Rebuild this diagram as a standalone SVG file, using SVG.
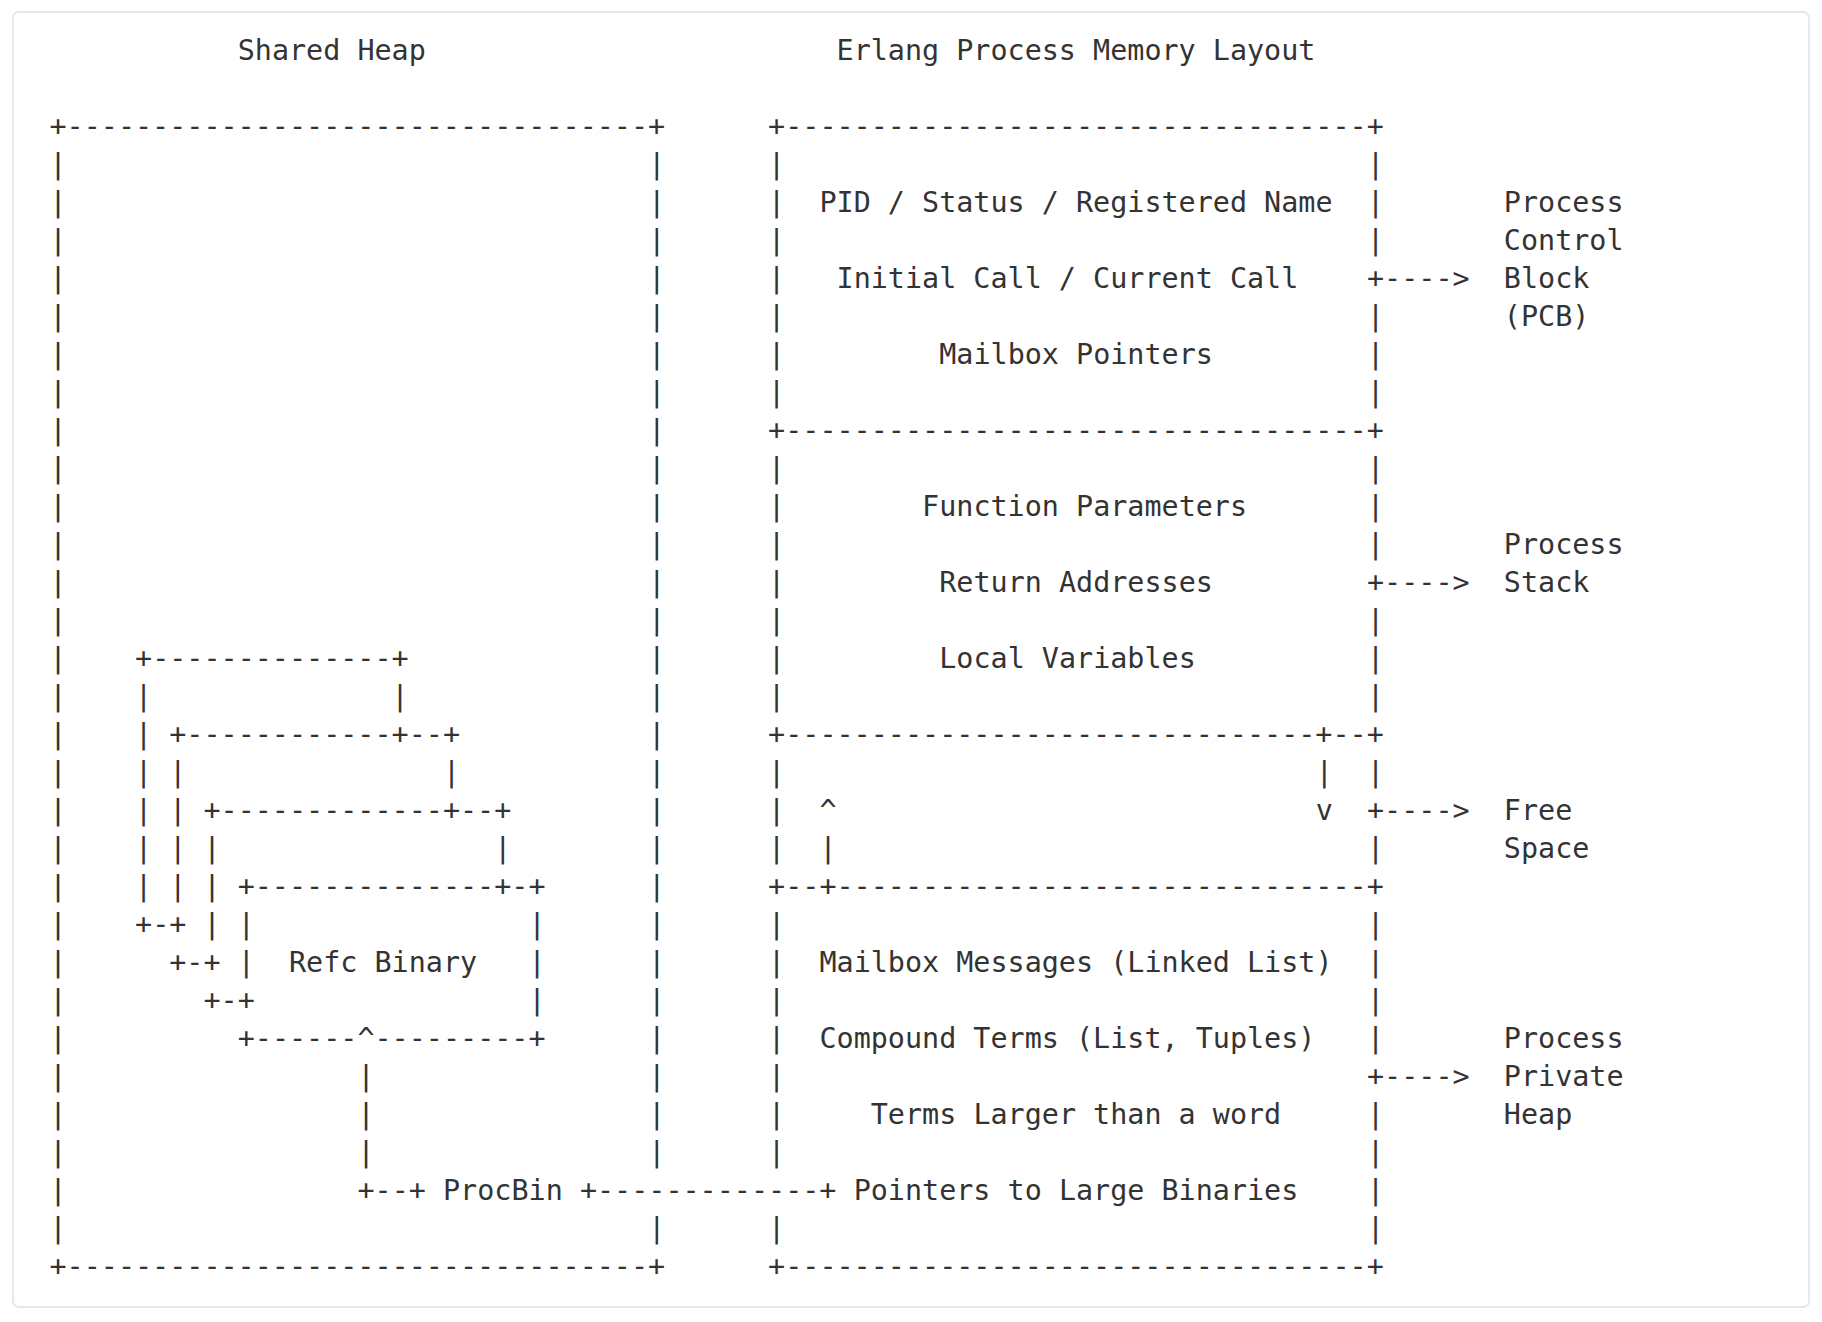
<svg xmlns="http://www.w3.org/2000/svg" width="1822" height="1322" viewBox="0 0 1822 1322">
<style>
  text { font-family: "DejaVu Sans Mono", "Liberation Mono", monospace; font-size: 28.42px; fill: #333; white-space: pre; }
</style>
<rect x="0" y="0" width="1822" height="1322" fill="#ffffff"/>
<rect x="13" y="12" width="1796" height="1295" rx="6" ry="6" fill="#ffffff" stroke="#e3e8ee" stroke-width="2"/>

<g id="titles">
  <text x="237.71" y="59.7">Shared Heap</text>
  <text x="836.56" y="59.7">Erlang Process Memory Layout</text>
</g>

<g id="shared-heap" xml:space="preserve">
  <text x="49.5" y="135.7">+----------------------------------+</text>
  <text x="49.5 49.5 49.5 49.5 49.5 49.5 49.5 49.5 49.5 49.5 49.5 49.5 49.5 49.5 49.5 49.5 49.5 49.5 49.5 49.5 49.5 49.5 49.5 49.5 49.5 49.5 49.5 49.5 49.5" y="173.7 211.7 249.7 287.7 325.7 363.7 401.7 439.7 477.7 515.7 553.7 591.7 629.7 667.7 705.7 743.7 781.7 819.7 857.7 895.7 933.7 971.7 1009.7 1047.7 1085.7 1123.7 1161.7 1199.7 1237.7">|||||||||||||||||||||||||||||</text>
  <text x="648.35 648.35 648.35 648.35 648.35 648.35 648.35 648.35 648.35 648.35 648.35 648.35 648.35 648.35 648.35 648.35 648.35 648.35 648.35 648.35 648.35 648.35 648.35 648.35 648.35 648.35 648.35" y="173.7 211.7 249.7 287.7 325.7 363.7 401.7 439.7 477.7 515.7 553.7 591.7 629.7 667.7 705.7 743.7 781.7 819.7 857.7 895.7 933.7 971.7 1009.7 1047.7 1085.7 1123.7 1161.7">|||||||||||||||||||||||||||</text>
  <text x="648.35" y="1237.7">|</text>
  <text x="49.5" y="1275.7">+----------------------------------+</text>
</g>

<g id="refc-binary" xml:space="preserve">
  <text x="135.05" y="667.7">+--------------+</text>
  <text x="135.05" y="705.7">|              |</text>
  <text x="135.05" y="743.7">| +------------+--+</text>
  <text x="135.05" y="781.7">| |               |</text>
  <text x="135.05" y="819.7">| | +-------------+--+</text>
  <text x="135.05" y="857.7">| | |                |</text>
  <text x="135.05" y="895.7">| | | +--------------+-+</text>
  <text x="135.05" y="933.7">+-+ | |                |</text>
  <text x="169.27" y="971.7">+-+ |  Refc Binary   |</text>
  <text x="203.49" y="1009.7">+-+                |</text>
  <text x="237.71" y="1047.7">+------^---------+</text>
</g>

<g id="procbin">
  <text x="443.03" y="1199.7">ProcBin</text>
</g>

<g id="process-memory" xml:space="preserve">
  <text x="768.12" y="135.7">+----------------------------------+</text>
  <text x="768.12 768.12 768.12 768.12 768.12 768.12 768.12" y="173.7 211.7 249.7 287.7 325.7 363.7 401.7">|||||||</text>
  <text x="1366.97 1366.97 1366.97" y="173.7 211.7 249.7">|||</text>
  <text x="1366.97 1366.97 1366.97" y="325.7 363.7 401.7">|||</text>
  <text x="768.12" y="439.7">+----------------------------------+</text>
  <text x="768.12 768.12 768.12 768.12 768.12 768.12 768.12" y="477.7 515.7 553.7 591.7 629.7 667.7 705.7">|||||||</text>
  <text x="1366.97 1366.97 1366.97" y="477.7 515.7 553.7">|||</text>
  <text x="1366.97 1366.97 1366.97" y="629.7 667.7 705.7">|||</text>
  <text x="768.12" y="743.7">+-------------------------------+--+</text>
  <text x="768.12 768.12 768.12" y="781.7 819.7 857.7">|||</text>
  <text x="1366.97" y="781.7">|</text>
  <text x="1366.97" y="857.7">|</text>
  <text x="768.12" y="895.7">+--+-------------------------------+</text>
  <text x="768.12 768.12 768.12 768.12 768.12 768.12 768.12" y="933.7 971.7 1009.7 1047.7 1085.7 1123.7 1161.7">|||||||</text>
  <text x="1366.97 1366.97 1366.97 1366.97" y="933.7 971.7 1009.7 1047.7">||||</text>
  <text x="1366.97 1366.97 1366.97 1366.97" y="1123.7 1161.7 1199.7 1237.7">||||</text>
  <text x="768.12" y="1237.7">|</text>
  <text x="768.12" y="1275.7">+----------------------------------+</text>
</g>

<g id="pcb">
  <text x="819.45" y="211.7">PID / Status / Registered Name</text>
  <text x="836.56" y="287.7">Initial Call / Current Call</text>
  <text x="939.22" y="363.7">Mailbox Pointers</text>
  <text x="1503.85" y="211.7">Process</text>
  <text x="1503.85" y="249.7">Control</text>
  <text x="1503.85" y="287.7">Block</text>
  <text x="1503.85" y="325.7">(PCB)</text>
</g>

<g id="process-stack">
  <text x="922.11" y="515.7">Function Parameters</text>
  <text x="939.22" y="591.7">Return Addresses</text>
  <text x="939.22" y="667.7">Local Variables</text>
  <text x="1503.85" y="553.7">Process</text>
  <text x="1503.85" y="591.7">Stack</text>
</g>

<g id="free-space">
  <text x="819.45" y="819.7">^</text>
  <text x="819.45" y="857.7">|</text>
  <text x="1315.64" y="781.7">|</text>
  <text x="1315.64" y="819.7">v</text>
  <text x="1503.85" y="819.7">Free</text>
  <text x="1503.85" y="857.7">Space</text>
</g>

<g id="private-heap">
  <text x="819.45" y="971.7">Mailbox Messages (Linked List)</text>
  <text x="819.45" y="1047.7">Compound Terms (List, Tuples)</text>
  <text x="870.78" y="1123.7">Terms Larger than a word</text>
  <text x="853.67" y="1199.7">Pointers to Large Binaries</text>
  <text x="1503.85" y="1047.7">Process</text>
  <text x="1503.85" y="1085.7">Private</text>
  <text x="1503.85" y="1123.7">Heap</text>
</g>

<g id="connectors" xml:space="preserve">
  <text x="357.48 357.48 357.48" y="1085.7 1123.7 1161.7">|||</text>
  <text x="357.48" y="1199.7">+--+</text>
  <text x="579.91" y="1199.7">+-------------+</text>
  <text x="1366.97" y="287.7">+----&gt;</text>
  <text x="1366.97" y="591.7">+----&gt;</text>
  <text x="1366.97" y="819.7">+----&gt;</text>
  <text x="1366.97" y="1085.7">+----&gt;</text>
</g>
</svg>
